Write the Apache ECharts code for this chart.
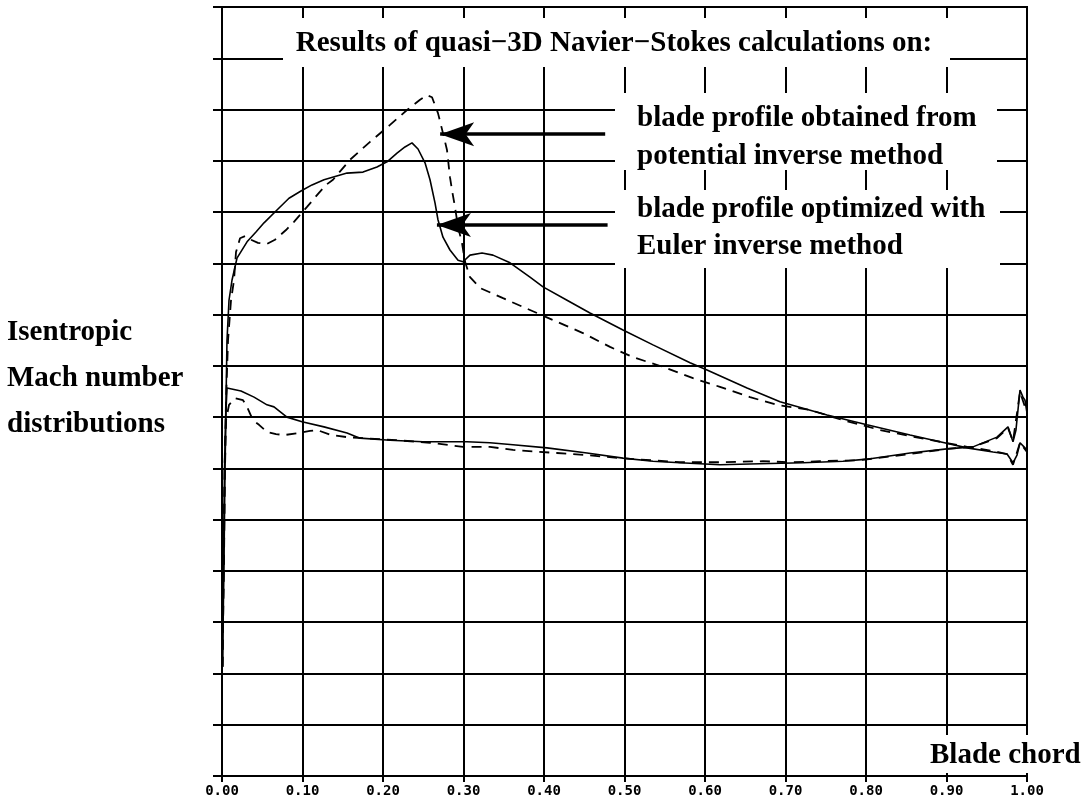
<!DOCTYPE html>
<html>
<head>
<meta charset="utf-8">
<script src="https://cdn.jsdelivr.net/npm/echarts@6/dist/echarts.min.js"></script>
<style>
  html, body { margin: 0; padding: 0; background: #fff; }
  #chart { width: 1084px; height: 802px; }
</style>
</head>
<body>
<div id="chart"></div>
<script>
// ---- Data (x = blade chord fraction, y = isentropic Mach number) ----
const xTicks = [0.0, 0.1, 0.2, 0.3, 0.4, 0.5, 0.6, 0.7, 0.8, 0.9, 1.0];

// Euler-optimized blade (solid line), suction side
const eulerSuction = [
  [0.0006,0.213],[0.0019,0.421],[0.0031,0.597],[0.005,0.733],[0.0062,0.850],[0.0087,0.928],
  [0.0124,0.967],[0.0186,1.010],[0.0311,1.042],[0.0422,1.061],[0.0522,1.079],[0.0683,1.104],
  [0.0832,1.127],[0.0981,1.141],[0.1118,1.153],[0.1267,1.163],[0.1553,1.176],[0.1752,1.178],
  [0.1925,1.188],[0.2050,1.198],[0.2174,1.215],[0.2273,1.227],[0.2360,1.235],[0.2435,1.223],
  [0.2522,1.196],[0.2584,1.163],[0.2646,1.118],[0.2683,1.085],[0.2745,1.051],[0.2832,1.026],
  [0.2932,1.006],[0.2994,1.003],[0.3081,1.016],[0.3230,1.020],[0.3366,1.016],[0.3578,1.001],
  [0.3826,0.973],[0.3988,0.954],[0.4286,0.928],[0.4571,0.903],[0.4981,0.870],[0.5354,0.841],
  [0.5814,0.806],[0.6025,0.792],[0.6522,0.757],[0.6932,0.730],[0.7516,0.704],[0.8012,0.685],
  [0.8547,0.665],[0.8919,0.652],[0.9255,0.640],[0.9578,0.632],[0.9752,0.628],[0.9826,0.611],
  [0.9876,0.626],[0.9913,0.650],[0.9963,0.642],[1.0,0.636]
];
// Euler-optimized blade (solid line), pressure side
const eulerPressure = [
  [0.0006,0.213],[0.0025,0.421],[0.0037,0.597],[0.005,0.714],[0.0062,0.757],[0.0236,0.751],
  [0.0398,0.739],[0.0559,0.724],[0.0646,0.720],[0.0807,0.700],[0.0994,0.691],[0.1267,0.681],
  [0.1553,0.669],[0.1714,0.659],[0.2087,0.655],[0.2497,0.652],[0.3043,0.652],[0.3329,0.650],
  [0.3615,0.646],[0.4037,0.640],[0.4534,0.630],[0.4981,0.620],[0.5354,0.614],[0.5689,0.611],
  [0.6186,0.607],[0.6683,0.609],[0.7217,0.611],[0.7714,0.614],[0.8012,0.618],[0.8547,0.630],
  [0.9006,0.638],[0.9329,0.642],[0.9627,0.661],[0.9764,0.681],[0.9826,0.652],[0.9863,0.675],
  [0.9913,0.753],[0.9950,0.739],[0.9975,0.733],[1.0,0.708]
];
// Potential-inverse blade (dashed line), suction side
const potentialSuction = [
  [0.0006,0.213],[0.0019,0.421],[0.0031,0.597],[0.005,0.733],[0.0075,0.850],[0.0112,0.928],
  [0.0149,0.967],[0.0174,1.022],[0.0224,1.049],[0.0286,1.053],[0.0348,1.047],[0.0447,1.040],
  [0.0559,1.038],[0.0658,1.046],[0.0795,1.065],[0.0894,1.081],[0.1056,1.110],[0.1180,1.133],
  [0.1292,1.153],[0.1379,1.163],[0.1590,1.202],[0.1839,1.237],[0.2087,1.270],[0.2298,1.299],
  [0.2460,1.319],[0.2547,1.328],[0.2609,1.324],[0.2683,1.293],[0.2745,1.254],[0.2795,1.221],
  [0.2832,1.168],[0.2857,1.143],[0.2894,1.110],[0.2932,1.071],[0.2981,1.040],[0.3019,1.003],
  [0.3081,0.973],[0.3205,0.952],[0.3491,0.932],[0.3826,0.909],[0.4161,0.886],[0.4484,0.864],
  [0.4820,0.837],[0.5106,0.817],[0.5478,0.798],[0.5851,0.776],[0.6186,0.759],[0.6559,0.739],
  [0.6894,0.724],[0.7304,0.714],[0.7714,0.694],[0.8174,0.675],[0.8547,0.663],[0.8919,0.652],
  [0.9255,0.642],[0.9578,0.634],[0.9752,0.628],[0.9826,0.607],[0.9913,0.650],[1.0,0.632]
];
// Potential-inverse blade (dashed line), pressure side
const potentialPressure = [
  [0.0006,0.213],[0.0025,0.421],[0.0037,0.597],[0.005,0.694],[0.0087,0.724],[0.0161,0.737],
  [0.0261,0.733],[0.0311,0.720],[0.0385,0.694],[0.0460,0.685],[0.0559,0.671],[0.0671,0.667],
  [0.0770,0.665],[0.0957,0.669],[0.1093,0.673],[0.1180,0.675],[0.1354,0.665],[0.1553,0.661],
  [0.2174,0.655],[0.2584,0.650],[0.2994,0.642],[0.3329,0.642],[0.3615,0.636],[0.4161,0.630],
  [0.4534,0.626],[0.4944,0.620],[0.5689,0.612],[0.6186,0.612],[0.6720,0.614],[0.7056,0.612],
  [0.7429,0.614],[0.7925,0.616],[0.8547,0.628],[0.9006,0.638],[0.9329,0.642],[0.9627,0.659],
  [0.9764,0.679],[0.9826,0.653],[0.9913,0.749],[1.0,0.708]
];

// Annotation arrows (data coordinates: tip x, tail x, level)
const arrowPotential = { tipX: 0.271, tailX: 0.476, y: 1.252 };
const arrowEuler = { tipX: 0.267, tailX: 0.479, y: 1.075 };

const titleText = 'Results of quasi\u22123D Navier\u2212Stokes calculations on:';
const legendLines = ['blade profile obtained from', 'potential inverse method',
                     'blade profile optimized with', 'Euler inverse method'];
const yAxisLines = ['Isentropic', 'Mach number', 'distributions'];
const xAxisTitle = 'Blade chord';

// ---- Chart ----
const chart = echarts.init(document.getElementById('chart'), null, { renderer: 'canvas' });
const serif = 'bold 29px "Liberation Serif", "Times New Roman", serif';

function txt(text, x, y, align) {
  return { type: 'text', z: 110, x: x, y: y,
    style: { text: text, font: serif, fill: '#000', align: align || 'left', verticalAlign: 'middle' } };
}
function box(x, y, w, h) {
  return { type: 'rect', z: 100, shape: { x: x, y: y, width: w, height: h }, style: { fill: '#fff' } };
}

const lineBase = { type: 'line', showSymbol: false, symbol: 'none', animation: false, silent: true, z: 5 };

function arrowLine(a) {
  return [{ coord: [a.tipX, a.y] }, { coord: [a.tailX, a.y] }];
}

const option = {
  backgroundColor: '#fff',
  animation: false,
  grid: { left: 222, top: 7, width: 805, height: 769, show: true, borderColor: '#000', borderWidth: 2 },
  xAxis: {
    type: 'value', min: 0, max: 1, interval: 0.1,
    axisLine: { show: true, lineStyle: { color: '#000', width: 2 } },
    axisTick: { show: true, inside: false, length: 6, lineStyle: { color: '#000', width: 2 } },
    axisLabel: {
      margin: 8, color: '#000',
      fontFamily: '"DejaVu Sans Mono", monospace', fontWeight: 'bold', fontSize: 14,
      formatter: function (v) {
        const i = xTicks.findIndex(t => Math.abs(t - v) < 1e-6);
        return i >= 0 ? xTicks[i].toFixed(2) : '';
      }
    },
    splitLine: { show: true, lineStyle: { color: '#000', width: 2 } }
  },
  yAxis: {
    type: 'value', min: 0, max: 1.5, interval: 0.1,
    axisLine: { show: true, lineStyle: { color: '#000', width: 2 } },
    axisTick: { show: true, inside: false, length: 9, lineStyle: { color: '#000', width: 2 } },
    axisLabel: { show: false },
    splitLine: { show: true, lineStyle: { color: '#000', width: 2 } }
  },
  series: [
    Object.assign({}, lineBase, { name: 'euler-suction', data: eulerSuction,
      lineStyle: { color: '#000', width: 1.6, type: 'solid' },
      markLine: {
        silent: true, animation: false, symbol: ['arrow', 'none'], symbolSize: [18, 34],
        label: { show: false },
        lineStyle: { color: '#000', width: 3.5, type: 'solid' },
        data: [arrowLine(arrowPotential), arrowLine(arrowEuler)]
      } }),
    Object.assign({}, lineBase, { name: 'euler-pressure', data: eulerPressure,
      lineStyle: { color: '#000', width: 1.6, type: 'solid' } }),
    Object.assign({}, lineBase, { name: 'potential-suction', data: potentialSuction,
      lineStyle: { color: '#000', width: 1.8, type: [10, 7] } }),
    Object.assign({}, lineBase, { name: 'potential-pressure', data: potentialPressure,
      lineStyle: { color: '#000', width: 1.8, type: [10, 7] } })
  ],
  graphic: [
    box(283, 18, 667, 49),
    box(615, 93, 382, 77),
    box(615, 190, 385, 78),
    box(925, 735, 159, 38),
    txt(titleText, 614, 44, 'center'),
    txt(legendLines[0], 637, 119),
    txt(legendLines[1], 637, 157),
    txt(legendLines[2], 637, 210),
    txt(legendLines[3], 637, 247),
    txt(yAxisLines[0], 7, 333),
    txt(yAxisLines[1], 7, 379),
    txt(yAxisLines[2], 7, 425),
    txt(xAxisTitle, 930, 756, 'left')
  ]
};
chart.setOption(option);
</script>
</body>
</html>
